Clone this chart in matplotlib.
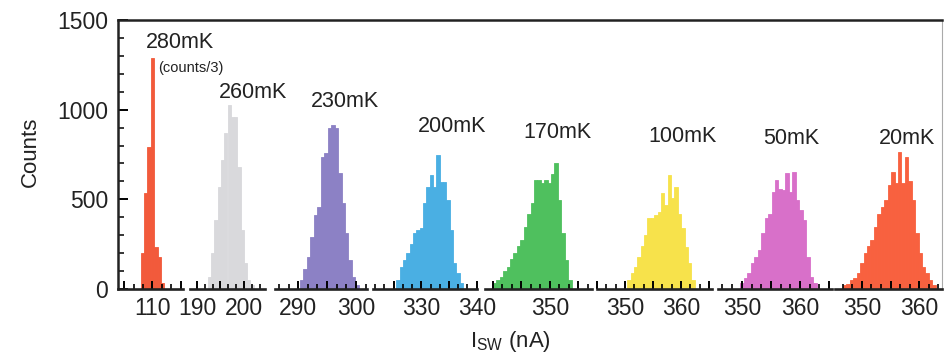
import matplotlib
matplotlib.use('Agg')
import matplotlib.pyplot as plt
from matplotlib.ticker import MultipleLocator, AutoMinorLocator, FuncFormatter

plt.rcParams['font.family'] = 'Liberation Sans'
plt.rcParams['mathtext.fontset'] = 'custom'
plt.rcParams['mathtext.rm'] = 'Liberation Sans'

# temperatures, one histogram each (first one is shown as counts/3)
temps = ['280mK', '260mK', '230mK', '200mK', '170mK', '100mK', '50mK', '20mK']
colors = ['#f25a3b', '#d9d9dc', '#8c81c5', '#4aafe3', '#4fc05e', '#f7e24b', '#d870c9', '#f8613f']

# histogram bins: left edge of first bin (nA) and bin width (nA)
bin_start = [107.9, 192.3, 290.3, 325.5, 340.0, 350.4, 349.7, 346.7]
bin_width = [0.6, 0.7, 0.6, 0.6, 0.6, 0.6, 0.6, 0.6]

counts_280 = [200, 535, 792, 1289, 235, 180, 33]
counts_260 = [67, 200, 385, 570, 720, 870, 1027, 960, 960, 680, 330, 145, 50, 20]
counts_230 = [50, 110, 180, 290, 413, 460, 737, 760, 898, 915, 900, 647, 480, 312, 162, 67, 20]
counts_200 = [50, 123, 160, 200, 250, 312, 330, 340, 480, 570, 636, 570, 748, 597, 597, 497, 330, 145, 90, 33]
counts_170 = [33, 50, 67, 100, 123, 170, 200, 240, 273, 346, 420, 480, 608, 608, 590, 608, 590, 640, 703,
              497, 312, 162, 50]
counts_100 = [50, 90, 123, 180, 240, 300, 396, 396, 410, 430, 535, 470, 636, 510, 570, 420, 340, 235, 145, 50]
counts_50 = [33, 60, 90, 145, 180, 215, 312, 396, 420, 540, 608, 560, 550, 647, 540, 650, 497, 440, 385, 180,
             67, 33]
counts_20 = [25, 30, 50, 60, 90, 145, 200, 240, 273, 346, 420, 460, 497, 580, 650, 590, 765, 590, 737, 600,
             497, 312, 200, 120, 90, 50, 25]
all_counts = [counts_280, counts_260, counts_230, counts_200, counts_170, counts_100, counts_50, counts_20]

# x range of each panel and the tick labels it shows
x_ranges = [(103.9, 115.4), (188.5, 204.5), (286.0, 301.9), (321.3, 340.05),
            (338.6, 357.4), (345.0, 365.5), (345.9, 365.5), (345.3, 364.0)]
shown_labels = [[110], [190, 200], [290, 300], [330, 340], [350], [350, 360], [350, 360], [350, 360]]

W, H = 944, 356
fig = plt.figure(figsize=(W / 100, H / 100), dpi=100)
top_px, bot_px = 20, 289


def px_box(x0, x1):
    return [x0 / W, 1 - bot_px / H, (x1 - x0) / W, (bot_px - top_px) / H]


# outer frame carrying the y axis
ax0 = fig.add_axes(px_box(118, 942))
ax0.set_ylim(0, 1500)
ax0.set_xticks([])
ax0.set_yticks([0, 500, 1000, 1500])
ax0.yaxis.set_minor_locator(MultipleLocator(100))
ax0.tick_params(axis='y', which='major', direction='in', length=7, width=1.4, labelsize=16.5,
                pad=7, labelcolor='#222222')
ax0.tick_params(axis='y', which='minor', direction='in', length=4, width=1.1)
ax0.spines['bottom'].set_visible(False)
for s in ['top', 'left']:
    ax0.spines[s].set_linewidth(1.8)
    ax0.spines[s].set_color('#222222')
ax0.spines['right'].set_linewidth(0.8)
ax0.spines['right'].set_color('#aaaaaa')

panel_px = [(118, 183), (190, 265), (275, 367), (373, 477), (485, 592), (597, 712), (718, 832), (835, 942)]

for i in range(len(temps)):
    x0, x1 = panel_px[i]
    ax = fig.add_axes(px_box(x0, x1), zorder=2)
    ax.patch.set_alpha(0)
    edges = [bin_start[i] + k * bin_width[i] for k in range(len(all_counts[i]))]
    ax.bar(edges, all_counts[i], width=bin_width[i], align='edge', color=colors[i],
           edgecolor=colors[i], linewidth=0.6)
    ax.set_xlim(*x_ranges[i])
    ax.set_ylim(0, 1500)
    ax.set_yticks([])
    for s in ['top', 'left', 'right']:
        ax.spines[s].set_visible(False)
    ax.spines['bottom'].set_linewidth(1.9)
    ax.spines['bottom'].set_color('#222222')
    ax.xaxis.set_major_locator(MultipleLocator(5))
    ax.xaxis.set_minor_locator(AutoMinorLocator(3))
    labels = shown_labels[i]
    ax.xaxis.set_major_formatter(FuncFormatter(
        lambda v, _, labels=labels: f'{v:.0f}' if round(v) in labels else ''))
    ax.tick_params(axis='x', which='major', direction='in', length=6, width=1.4, labelsize=16.5,
                   pad=6, labelcolor='#222222')
    ax.tick_params(axis='x', which='minor', direction='in', length=3.5, width=1.2)

# temperature labels above each histogram
label_pos = [(180, 42), (253, 92), (345, 102), (452, 126), (557, 132), (683, 136), (791, 139), (907, 139)]
for t, (lx, ly) in zip(temps, label_pos):
    fig.text(lx / W, 1 - ly / H, t, ha='center', va='center', fontsize=15.5, color='#222222')
fig.text(158 / W, 1 - 68 / H, '(counts/3)', ha='left', va='center', fontsize=10.5, color='#222222')

fig.text(30 / W, 1 - 152 / H, 'Counts', rotation=90, ha='center', va='center', fontsize=16, color='#222222')
fig.text(510 / W, 1 - 342 / H, r'I$_{\rm SW}$ (nA)', ha='center', va='center', fontsize=16, color='#222222')

fig.savefig('out.png', dpi=100)
